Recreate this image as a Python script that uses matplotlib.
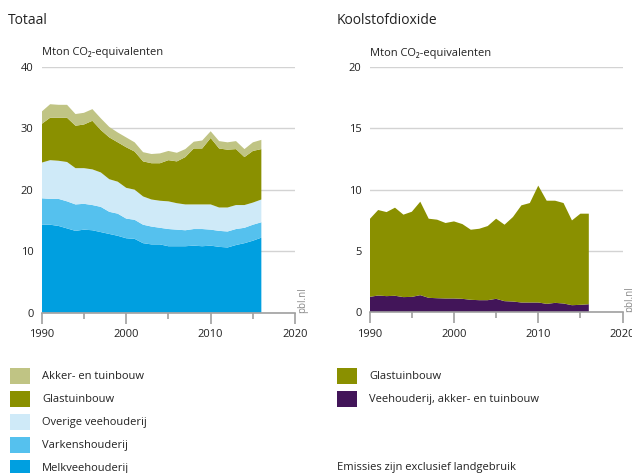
import numpy as np
import matplotlib
matplotlib.use("Agg")
import matplotlib.pyplot as plt
from matplotlib.patches import Rectangle

plt.rcParams['font.family'] = ['Open Sans', 'DejaVu Sans']

# Jaren
jaren = list(range(1990, 2017))

# Totaal: bovenkant van elke laag (cumulatief, Mton CO2-eq)
top_melk = [14.3, 14.3, 14.1, 13.7, 13.3, 13.5, 13.4, 13.1, 12.8, 12.5, 12.1, 12.0, 11.3, 11.1,
            11.1, 10.8, 10.8, 10.8, 10.9, 10.8, 10.9, 10.7, 10.6, 11.0, 11.3, 11.7, 12.2]
top_varkens = [18.6, 18.5, 18.5, 18.1, 17.6, 17.7, 17.5, 17.2, 16.4, 16.1, 15.3, 15.1, 14.3, 14.0,
               13.8, 13.6, 13.5, 13.4, 13.6, 13.6, 13.5, 13.3, 13.2, 13.6, 13.8, 14.3, 14.7]
top_overig = [24.4, 24.8, 24.7, 24.5, 23.5, 23.5, 23.3, 22.8, 21.7, 21.3, 20.3, 20.0, 18.9, 18.4,
              18.2, 18.1, 17.8, 17.6, 17.6, 17.6, 17.6, 17.1, 17.1, 17.5, 17.5, 17.9, 18.4]
top_glas = [30.7, 31.7, 31.7, 31.7, 30.4, 30.6, 31.2, 29.7, 28.5, 27.7, 26.9, 26.2, 24.6, 24.3,
            24.3, 24.8, 24.6, 25.3, 26.7, 26.7, 28.4, 26.7, 26.5, 26.6, 25.3, 26.3, 26.6]
top_akker = [32.7, 33.9, 33.8, 33.8, 32.3, 32.5, 33.1, 31.6, 30.2, 29.3, 28.5, 27.7, 26.1, 25.8,
             25.9, 26.3, 26.0, 26.6, 27.8, 28.0, 29.5, 27.9, 27.7, 27.9, 26.6, 27.7, 28.1]

# Koolstofdioxide
co2_vee = [1.25, 1.36, 1.31, 1.34, 1.23, 1.25, 1.39, 1.17, 1.14, 1.12, 1.12, 1.09, 1.01, 0.98,
           0.98, 1.09, 0.90, 0.87, 0.79, 0.79, 0.79, 0.68, 0.76, 0.71, 0.57, 0.60, 0.65]
co2_totaal = [7.60, 8.34, 8.17, 8.53, 7.96, 8.20, 9.02, 7.63, 7.55, 7.28, 7.41, 7.19, 6.73, 6.81,
              7.03, 7.63, 7.14, 7.77, 8.72, 8.91, 10.33, 9.10, 9.10, 8.91, 7.49, 8.04, 8.04]

# lagen uit cumulatieve waarden
melk = np.array(top_melk)
varkens = np.array(top_varkens) - np.array(top_melk)
overig = np.array(top_overig) - np.array(top_varkens)
glas = np.array(top_glas) - np.array(top_overig)
akker = np.array(top_akker) - np.array(top_glas)
co2_glas = np.array(co2_totaal) - np.array(co2_vee)

# Kleuren
c_akker = '#c0c484'
c_glas = '#8a9000'
c_overig = '#cfeaf8'
c_varkens = '#55c1ee'
c_melk = '#009fe0'
c_vee = '#421559'

grid_kleur = '#d3d3d3'
as_kleur = '#a0a0a0'
tekst = '#222222'

fig = plt.figure(figsize=(6.32, 4.73), dpi=100)


def opmaak(ax, ymax, ystap):
    ax.set_xlim(1990, 2020)
    ax.set_ylim(0, ymax)
    ax.set_yticks(np.arange(0, ymax + 0.1, ystap))
    ax.set_xticks([1990, 2000, 2010, 2020])
    ax.set_xticks([1995, 2005, 2015], minor=True)
    ax.yaxis.grid(True, color=grid_kleur, lw=1)
    ax.set_axisbelow(True)
    for s in ['top', 'right', 'left']:
        ax.spines[s].set_visible(False)
    ax.spines['bottom'].set_color(as_kleur)
    ax.spines['bottom'].set_linewidth(1.2)
    ax.tick_params(axis='y', length=0, pad=6, labelsize=8, labelcolor=tekst)
    ax.tick_params(axis='x', which='major', length=8, width=1.2, color=as_kleur,
                   labelsize=8, labelcolor=tekst, pad=4)
    ax.tick_params(axis='x', which='minor', length=4, width=1.2, color=as_kleur)
    ax.set_facecolor('none')
    ax.text(0.0, 1.035, 'Mton CO\u2082-equivalenten', transform=ax.transAxes,
            fontsize=8, color=tekst, ha='left', va='bottom')
    ax.text(1.03, 0.0, 'pbl.nl', transform=ax.transAxes, rotation=90,
            fontsize=7, color='#8a8a8a', ha='center', va='bottom')


# Totaal
ax1 = fig.add_axes([0.066, 0.339, 0.401, 0.520])
ax1.stackplot(jaren, melk, varkens, overig, glas, akker,
              colors=[c_melk, c_varkens, c_overig, c_glas, c_akker], lw=0)
opmaak(ax1, 40, 10)

# Koolstofdioxide
ax2 = fig.add_axes([0.585, 0.340, 0.400, 0.518])
ax2.stackplot(jaren, co2_vee, co2_glas, colors=[c_vee, c_glas], lw=0)
opmaak(ax2, 20, 5)

fig.text(8 / 632, 1 - 20 / 473, 'Totaal', fontsize=10, color=tekst, va='center')
fig.text(337 / 632, 1 - 20 / 473, 'Koolstofdioxide', fontsize=10, color=tekst, va='center')

# Legenda
links = [('Akker- en tuinbouw', c_akker), ('Glastuinbouw', c_glas),
         ('Overige veehouderij', c_overig), ('Varkenshouderij', c_varkens),
         ('Melkveehouderij', c_melk)]
rechts = [('Glastuinbouw', c_glas), ('Veehouderij, akker- en tuinbouw', c_vee)]

W, H = 632, 473


def legenda(items, x0):
    for i, (naam, kleur) in enumerate(items):
        yc = 376 + i * 23
        fig.patches.append(Rectangle((x0 / W, 1 - (yc + 8) / H), 20 / W, 16 / H,
                                     transform=fig.transFigure, color=kleur, lw=0))
        fig.text((x0 + 32) / W, 1 - yc / H, naam, fontsize=8, color=tekst, va='center')


legenda(links, 10)
legenda(rechts, 337)
fig.text(337 / W, 1 - 467 / H, 'Emissies zijn exclusief landgebruik', fontsize=8,
         color=tekst, va='center')

fig.savefig('out.png', dpi=100)
